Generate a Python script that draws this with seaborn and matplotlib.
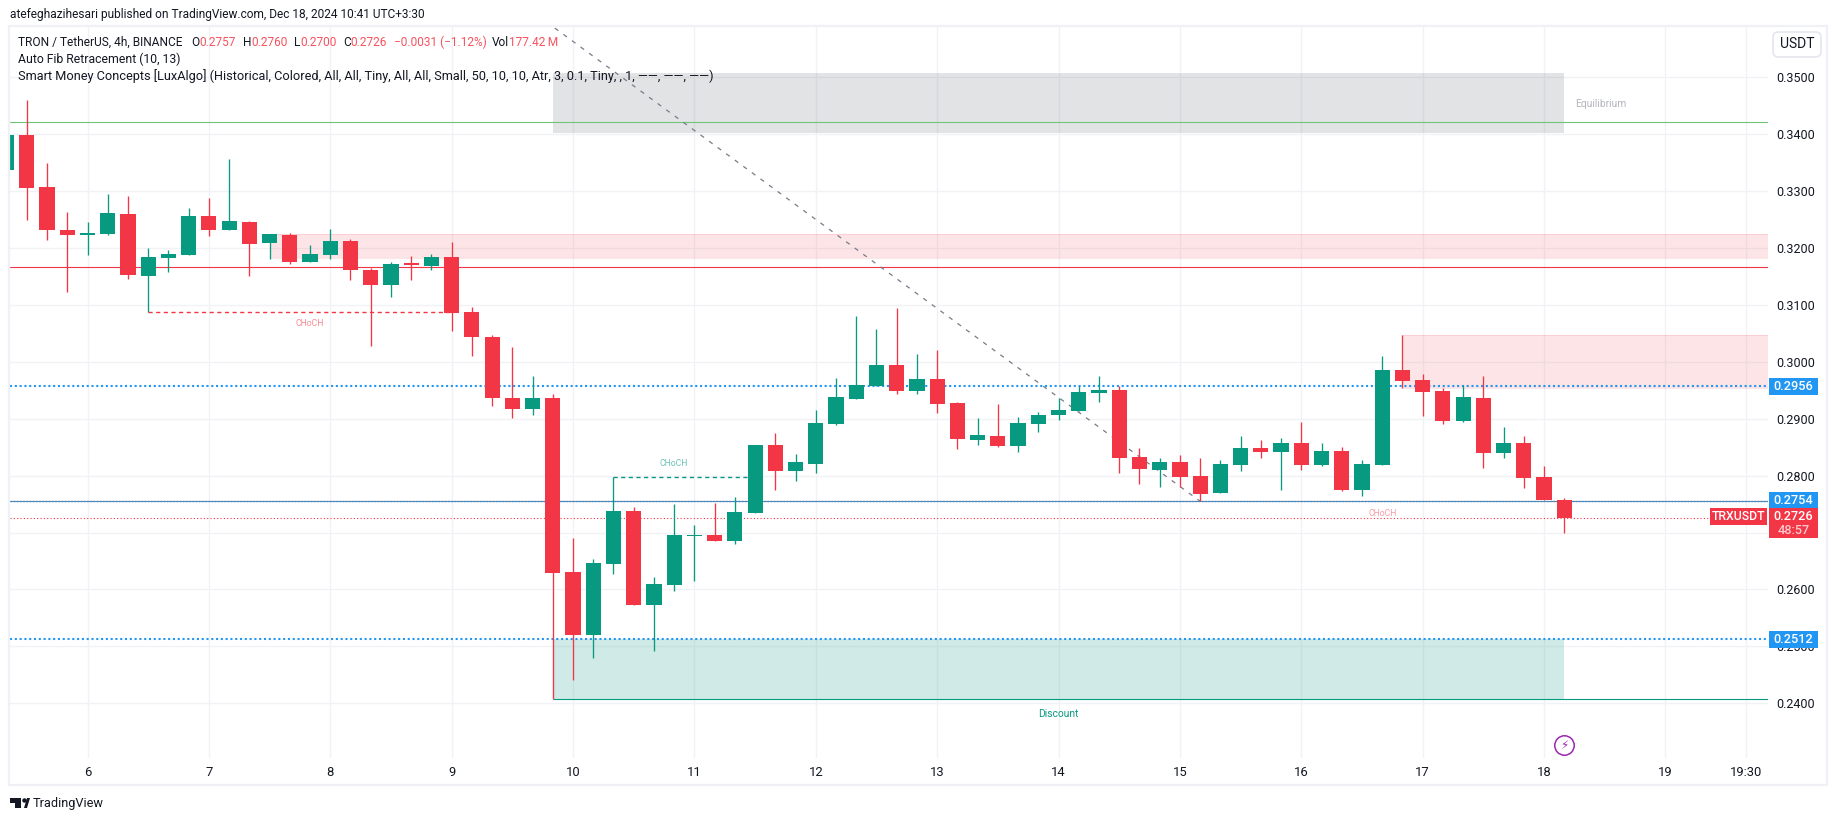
# TRX/USDT 4h candlestick chart, TradingView style
import numpy as np
import pandas as pd
import seaborn as sns
import matplotlib.pyplot as plt
from matplotlib.patches import Rectangle, Polygon, FancyBboxPatch
from matplotlib.transforms import blended_transform_factory

# Candles (first one is cut by the left edge)
opens = [0.3337, 0.3399, 0.33076, 0.32322, 0.32234, 0.32251, 0.32602, 0.31515, 0.3183, 0.31883,
         0.32567, 0.32322, 0.32462, 0.32094, 0.32234, 0.3176, 0.31883, 0.32129, 0.3162, 0.31357,
         0.31743, 0.3169, 0.31848, 0.30877, 0.30444, 0.29357, 0.29164, 0.29357, 0.26304, 0.25199,
         0.26444, 0.27374, 0.25725, 0.26076, 0.26936, 0.26953, 0.26848, 0.27345, 0.28532, 0.28076,
         0.28199, 0.28901, 0.29339, 0.29567, 0.29936, 0.2948, 0.2969, 0.29269, 0.2862, 0.2869,
         0.28515, 0.28901, 0.29058, 0.29129, 0.29444, 0.29497, 0.28322, 0.28094, 0.28234, 0.27988,
         0.2769, 0.28181, 0.2848, 0.28409, 0.28567, 0.28181, 0.28427, 0.27743, 0.28181, 0.29865,
         0.29673, 0.2948, 0.28953, 0.29357, 0.28392, 0.28567, 0.27971, 0.2757]
highs = [0.3399, 0.34602, 0.33497, 0.32637, 0.32462, 0.32953, 0.32918, 0.32006, 0.31971, 0.32708,
         0.32883, 0.33567, 0.3248, 0.32251, 0.32269, 0.32058, 0.32339, 0.32164, 0.31655, 0.3176,
         0.31865, 0.31901, 0.32111, 0.30965, 0.3048, 0.30269, 0.2976, 0.29427, 0.26901, 0.26532,
         0.27982, 0.27444, 0.26216, 0.27497, 0.27129, 0.27515, 0.2762, 0.28532, 0.28743, 0.28374,
         0.29146, 0.29725, 0.30813, 0.30585, 0.30953, 0.30146, 0.30216, 0.29287, 0.29006, 0.29251,
         0.29023, 0.29111, 0.29357, 0.29567, 0.2976, 0.29567, 0.2848, 0.28304, 0.28357, 0.28304,
         0.28269, 0.2869, 0.2862, 0.28655, 0.28936, 0.28567, 0.28497, 0.28269, 0.30111, 0.3048,
         0.29778, 0.29532, 0.29602, 0.2976, 0.28848, 0.2869, 0.28164, 0.276]
lows = [0.3337, 0.32485, 0.32135, 0.31234, 0.31883, 0.32234, 0.31462, 0.30877, 0.31585, 0.31883,
        0.32216, 0.32322, 0.31515, 0.31813, 0.31725, 0.3176, 0.31813, 0.31444, 0.30287, 0.31146,
        0.31444, 0.3162, 0.3055, 0.30111, 0.29216, 0.29006, 0.29058, 0.2407, 0.24409, 0.24795,
        0.26269, 0.25725, 0.24918, 0.25971, 0.26146, 0.26848, 0.26795, 0.27345, 0.27743, 0.27901,
        0.28041, 0.28883, 0.29339, 0.29567, 0.29427, 0.29427, 0.29094, 0.28462, 0.28532, 0.28497,
        0.28409, 0.2876, 0.28971, 0.29129, 0.29287, 0.28041, 0.27848, 0.27795, 0.27795, 0.2755,
        0.2769, 0.28076, 0.28304, 0.27743, 0.28094, 0.28164, 0.27725, 0.27637, 0.28181, 0.29532,
        0.29041, 0.28901, 0.28936, 0.28129, 0.28304, 0.27778, 0.27567, 0.27]
closes = [0.3399, 0.33058, 0.3231, 0.32234, 0.32269, 0.3262, 0.31532, 0.31848, 0.31901, 0.32567,
          0.32322, 0.3248, 0.32076, 0.32251, 0.3176, 0.31901, 0.32129, 0.3162, 0.31357, 0.31725,
          0.31708, 0.31848, 0.30865, 0.30444, 0.29357, 0.29164, 0.29357, 0.26287, 0.25199, 0.26462,
          0.27374, 0.25725, 0.26094, 0.26953, 0.26953, 0.26848, 0.27357, 0.28532, 0.28076, 0.28234,
          0.28918, 0.29374, 0.29585, 0.29936, 0.2948, 0.2969, 0.29251, 0.28637, 0.28708, 0.28515,
          0.28918, 0.29058, 0.29146, 0.29462, 0.29497, 0.28304, 0.28111, 0.28234, 0.27971, 0.27673,
          0.28199, 0.2848, 0.28409, 0.28567, 0.28181, 0.28427, 0.27743, 0.28199, 0.29865, 0.29655,
          0.29462, 0.28953, 0.29374, 0.28392, 0.28567, 0.27953, 0.27567, 0.2726]

# Axis ticks (0.2700 sits behind the red price tag in the picture, so it has no label)
day_ticks = [6, 7, 8, 9, 10, 11, 12, 13, 14, 15, 16, 17, 18, 19, 19 + 2 / 3]
day_labels = ['6', '7', '8', '9', '10', '11', '12', '13', '14', '15', '16', '17', '18', '19', '19:30']
price_ticks = [0.24, 0.25, 0.26, 0.27, 0.28, 0.29, 0.30, 0.31, 0.32, 0.33, 0.34, 0.35]
price_labels = ['0.2400', '0.2500', '0.2600', '', '0.2800', '0.2900', '0.3000', '0.3100', '0.3200',
                '0.3300', '0.3400', '0.3500']

# Levels and zones
dotted_levels = [0.29575, 0.27560, 0.25125]
level_tags = ['0.2956', '0.2754', '0.2512']
last_price = 0.2726
premium_zone = (0.34023, 0.35076)
discount_zone = (0.2407, 0.25125)
supply_zone = (0.31819, 0.32251)
supply_zone2 = (0.29544, 0.3048)
green_level = 0.34211
red_level = 0.31667
gray_level = 0.2754
choch_red = 0.30877
choch_green = 0.27982
fib_start = 0.35865
fib_end = 0.2755

UP = '#089981'
DOWN = '#F23645'
BLUE = '#2196F3'
DARK = '#131722'
GRID = '#F1F2F5'
FRAME = '#F0F1F6'

W, H = 1835, 821

sns.set_theme(style='white')
plt.rcParams['font.family'] = ['Roboto', 'DejaVu Sans']

fig = plt.figure(figsize=(W / 100, H / 100), dpi=100, facecolor='white')
ax = fig.add_axes([10 / W, (H - 758) / H, 1758 / W, 731 / H])


def px(x, y):
    # pixel position of the picture to figure fraction
    return x / W, 1 - y / H


def day(i):
    # candle number (counted from the cut candle) to day of month
    return 16 / 3 + i / 6


candles = pd.DataFrame({'open': opens, 'high': highs, 'low': lows, 'close': closes})
candles['x'] = day(np.arange(len(candles)))
candles['height'] = (candles['close'] - candles['open']).abs().clip(lower=0.0002)
candles['bottom'] = candles[['open', 'close']].min(axis=1)
up = candles[candles['close'] >= candles['open']]
down = candles[candles['close'] < candles['open']]

# Candle bodies
sns.barplot(data=up, x='x', y='height', bottom=up['bottom'], native_scale=True, color=UP,
            saturation=1, width=0.75, errorbar=None, linewidth=0, zorder=3, ax=ax)
sns.barplot(data=down, x='x', y='height', bottom=down['bottom'], native_scale=True, color=DOWN,
            saturation=1, width=0.75, errorbar=None, linewidth=0, zorder=3, ax=ax)
# Wicks
ax.vlines(up['x'], up['low'], up['high'], color=UP, lw=0.95, zorder=2.9)
ax.vlines(down['x'], down['low'], down['high'], color=DOWN, lw=0.95, zorder=2.9)

# Smart money zones (candle numbers where they start and stop)
zone_start = day(27)
zone_end = day(77)
ax.fill_between([zone_start, zone_end], *premium_zone, color='#787B86', alpha=0.21, lw=0, zorder=1)
ax.fill_between([zone_start, zone_end], *discount_zone, color=UP, alpha=0.19, lw=0, zorder=1)
right_edge = 19.845
for zone, start in [(supply_zone, day(13)), (supply_zone2, day(69))]:
    ax.fill_between([start, right_edge], *zone, color=DOWN, alpha=0.125, lw=0, zorder=1)
    ax.hlines(zone, start, right_edge, color=DOWN, alpha=0.12, lw=0.8, zorder=1)

# Horizontal levels
ax.axhline(green_level, color='#70C47C', lw=0.8, zorder=1.5)
ax.axhline(red_level, color=DOWN, lw=0.8, zorder=1.5)
ax.axhline(gray_level + 0.00014, color='#787B86', lw=0.8, zorder=1.5)
ax.hlines(discount_zone[0], zone_start, right_edge, color=UP, lw=0.8, zorder=1.6)
for level, lw in zip(dotted_levels, [1.5, 1.0, 1.5]):
    ax.axhline(level, color=BLUE, lw=lw, ls=(0, (1, 1.3)), zorder=1.7)
ax.hlines(last_price, 5.36, 19.37, color=DOWN, lw=0.8, ls=(0, (1, 2)), zorder=1.7)

# Fib line
ax.plot([day(27.1), day(59)], [fib_start, fib_end], color='#787B86', lw=0.9,
        ls=(0, (3.5, 5)), zorder=1.8)

# CHoCH marks
ax.hlines(choch_red, day(7), day(22), color=DOWN, lw=1.0, ls=(0, (3, 2.5)), zorder=2)
ax.hlines(choch_green, day(30), day(37), color=UP, lw=1.0, ls=(0, (3, 2.5)), zorder=2)
small = dict(ha='center', va='center', fontsize=6.2, zorder=4)
ax.text(day(15), 0.3067, 'CHoCH', color=DOWN, alpha=0.6, **small)
ax.text(day(33), 0.2821, 'CHoCH', color=UP, alpha=0.6, **small)
ax.text(day(68), 0.27333, 'CHoCH', color=DOWN, alpha=0.5, **small)
ax.text(day(78.8), 0.3453, 'Equilibrium', color='#B2B5BE', ha='center', va='center', fontsize=7.4, zorder=4)
ax.text(day(52), 0.2381, 'Discount', color=UP, ha='center', va='center', fontsize=7.4, zorder=4)

# Axes
ax.set_xlim(5.3615, right_edge)
ax.set_ylim(0.23039, 0.35884)
ax.set_xticks(day_ticks)
ax.set_xticklabels(day_labels)
ax.set_yticks(price_ticks)
ax.set_yticklabels(price_labels)
ax.yaxis.tick_right()
ax.set_xlabel('')
ax.set_ylabel('')
ax.tick_params(axis='x', length=0, pad=6, labelsize=9.4, labelcolor=DARK)
ax.tick_params(axis='y', length=0, pad=6.2, labelsize=9.0, labelcolor=DARK)
ax.grid(True, color=GRID, lw=1.0)
ax.set_axisbelow(True)
for s in ax.spines.values():
    s.set_visible(False)

# Price tags on the right
tag_tr = blended_transform_factory(fig.transFigure, ax.transData)
tag_x = 1769 / W
tag_w = 49 / W
tag_h = 17 / 5691
tag_text = dict(transform=tag_tr, ha='center', va='center', fontsize=9.2, weight='medium', zorder=11)
for level, tag in zip(dotted_levels, level_tags):
    ax.add_patch(Rectangle((tag_x, level - tag_h / 2), tag_w, tag_h, transform=tag_tr,
                           color=BLUE, lw=0, clip_on=False, zorder=10))
    ax.text(tag_x + tag_w / 2, level, tag, color='white', **tag_text)
tag_mid = last_price + 0.0002
ax.add_patch(Rectangle((tag_x, tag_mid - 21.5 / 5691), tag_w, 30 / 5691, transform=tag_tr,
                       color=DOWN, lw=0, clip_on=False, zorder=10))
ax.add_patch(Rectangle((1710 / W, tag_mid - tag_h / 2), 57 / W, tag_h, transform=tag_tr,
                       color=DOWN, lw=0, clip_on=False, zorder=10))
ax.text(tag_x + tag_w / 2, tag_mid, '0.2726', color='white', **tag_text)
ax.text(tag_x + tag_w / 2, tag_mid - 14 / 5691, '48:57', color='#FBC9CE', **tag_text)
ax.text(1738.5 / W, tag_mid, 'TRXUSDT', color='white', **{**tag_text, 'fontsize': 8.8})

# Lightning icon
icon_x, icon_y = px(1564, 745)
fig.add_artist(plt.Line2D([icon_x], [icon_y], marker='o', ms=14, mfc='white', mec='#9C27B0', mew=1.1, ls=''))
fig.text(icon_x, icon_y - 0.001, '\u26a1', color='#9C27B0', fontsize=8.5, ha='center', va='center',
         family='DejaVu Sans')

# Outer frame
fig.add_artist(Rectangle(px(9, 785), 1818 / W, 759 / H, transform=fig.transFigure,
                         fill=False, ec=FRAME, lw=1.6))
fig.add_artist(FancyBboxPatch(px(1773, 57), 48 / W, 25 / H, transform=fig.transFigure,
                              boxstyle='round,pad=0,rounding_size=0.003', mutation_aspect=2.2,
                              fc='white', ec='#E4E6EE', lw=1.2))
fig.text(*px(1797.5, 44), 'USDT', color=DARK, fontsize=10, ha='center', va='center')


# Header and legend text
def label(x, y, text, color=DARK, size=8.6):
    fig.text(*px(x, y), text, color=color, fontsize=size, ha='left', va='center', zorder=20)


RED_TXT = '#F7525F'
label(10, 14.5, 'atefeghazihesari published on TradingView.com, Dec 18, 2024 10:41 UTC+3:30')
label(18, 42, 'TRON / TetherUS, 4h, BINANCE', size=8.6)
for x, s, c in [(191, 'O', DARK), (199.5, '0.2757', RED_TXT), (242.5, 'H', DARK), (251, '0.2760', RED_TXT),
                (294, 'L', DARK), (300, '0.2700', RED_TXT), (343, 'C', DARK), (350, '0.2726', RED_TXT),
                (394, '\u22120.0031 (\u22121.12%)', RED_TXT), (492, 'Vol', DARK), (508.5, '177.42\u2009M', RED_TXT)]:
    label(x, 42, s, c, size=8.6)
label(18, 59, 'Auto Fib Retracement (10, 13)', size=8.8)
label(18, 76, 'Smart Money Concepts [LuxAlgo] (Historical, Colored, All, All, Tiny, All, All, Small, 50, 10, 10, '
              'Atr, 3, 0.1, Tiny, , 1, \u2014\u2014, \u2014\u2014, \u2014\u2014)', size=9.2)

# TradingView logo
for pts in [[(10, 798), (21, 798), (21, 808), (15, 808), (15, 803), (10, 803)],
            [(24, 808), (27, 798), (30, 798), (27, 808)]]:
    fig.add_artist(Polygon([px(*p) for p in pts], transform=fig.transFigure, color=DARK, lw=0))
fig.add_artist(plt.Line2D(*zip(px(23.5, 800)), marker='o', ms=2.2, color=DARK, ls=''))
label(33, 803, 'TradingView', size=9.2)

fig.savefig('out.png', dpi=100)
